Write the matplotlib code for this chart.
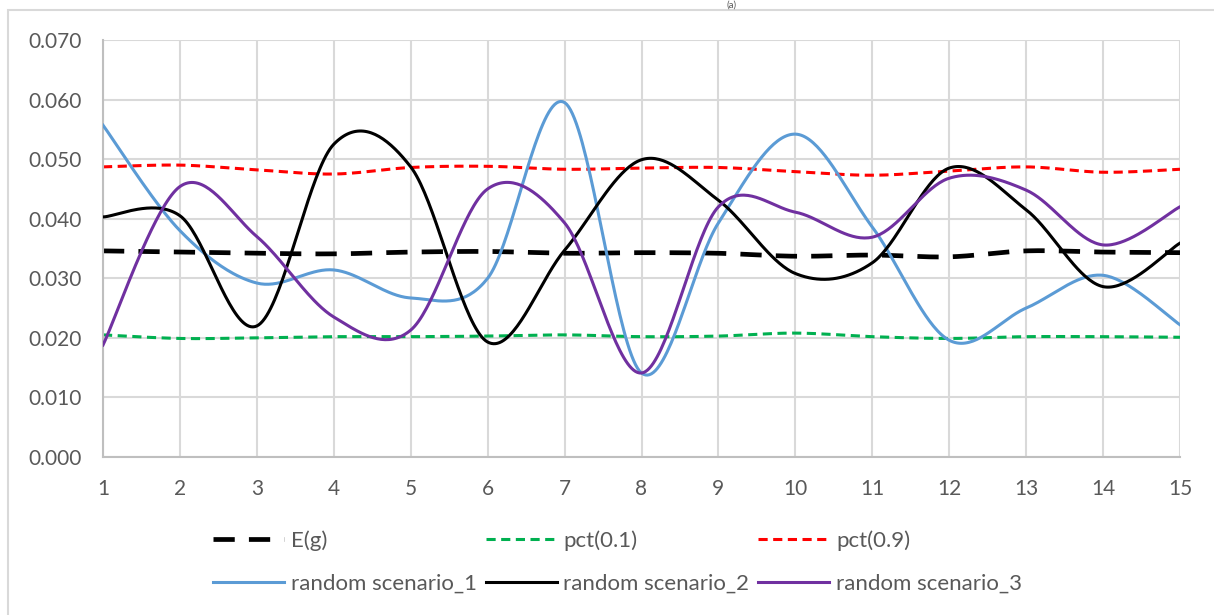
import numpy as np
import matplotlib.pyplot as plt
from matplotlib.patches import Rectangle

plt.rcParams['font.family'] = ['Lato', 'DejaVu Sans']

steps = list(range(1, 16))

e_g = [0.0346, 0.0344, 0.0342, 0.0341, 0.0344, 0.0345, 0.0342, 0.0343,
       0.0342, 0.0337, 0.0339, 0.0336, 0.0346, 0.0344, 0.0343]
pct_01 = [0.0205, 0.0199, 0.0200, 0.0202, 0.0202, 0.0203, 0.0205, 0.0202,
          0.0203, 0.0208, 0.0202, 0.0199, 0.0202, 0.0202, 0.0201]
pct_09 = [0.0487, 0.0490, 0.0482, 0.0475, 0.0486, 0.0488, 0.0483, 0.0485,
          0.0486, 0.0479, 0.0473, 0.0480, 0.0487, 0.0478, 0.0483]
scen_1 = [0.0557, 0.0380, 0.0292, 0.0314, 0.0267, 0.0300, 0.0595, 0.0141,
          0.0393, 0.0542, 0.0386, 0.0196, 0.0250, 0.0305, 0.0222]
scen_2 = [0.0403, 0.0405, 0.0220, 0.0525, 0.0487, 0.0193, 0.0347, 0.0499,
          0.0431, 0.0308, 0.0326, 0.0485, 0.0415, 0.0286, 0.0359]
scen_3 = [0.0188, 0.0454, 0.0370, 0.0235, 0.0213, 0.0450, 0.0393, 0.0141,
          0.0420, 0.0411, 0.0369, 0.0468, 0.0448, 0.0356, 0.0420]

yticks = [0.0, 0.01, 0.02, 0.03, 0.04, 0.05, 0.06, 0.07]


def smooth(x, y, n=40):
    # excel style smoothed line (bezier, control points at 1/6 of neighbour diff)
    x = np.asarray(x, float)
    y = np.asarray(y, float)
    xs, ys = [], []
    for i in range(len(x) - 1):
        i0 = max(i - 1, 0)
        i3 = min(i + 2, len(x) - 1)
        p0 = np.array([x[i], y[i]])
        p3 = np.array([x[i + 1], y[i + 1]])
        c1 = p0 + (p3 - np.array([x[i0], y[i0]])) / 6
        c2 = p3 - (np.array([x[i3], y[i3]]) - p0) / 6
        t = np.linspace(0, 1, n)[:, None]
        b = (1 - t)**3 * p0 + 3 * (1 - t)**2 * t * c1 + 3 * (1 - t) * t**2 * c2 + t**3 * p3
        xs.extend(b[:, 0])
        ys.extend(b[:, 1])
    return xs, ys


fig = plt.figure(figsize=(12.14, 6.15), dpi=100)
ax = fig.add_axes([103 / 1214, 1 - 457 / 615, (1180 - 103) / 1214, (457 - 40) / 615])

lines = []
l, = ax.plot(*smooth(steps, e_g), color='black', lw=3.4, dashes=(4.5, 3), label='E(g)')
lines.append(l)
l, = ax.plot(*smooth(steps, scen_1), color='#5B9BD5', lw=2.2, label='random scenario_1')
lines.append(l)
l, = ax.plot(*smooth(steps, pct_01), color='#00B050', lw=2.2, dashes=(3, 1.8), label='pct(0.1)')
lines.append(l)
l, = ax.plot(*smooth(steps, scen_2), color='black', lw=2.2, label='random scenario_2')
lines.append(l)
l, = ax.plot(*smooth(steps, pct_09), color='#FF0000', lw=2.2, dashes=(3, 1.8), label='pct(0.9)')
lines.append(l)
l, = ax.plot(*smooth(steps, scen_3), color='#7030A0', lw=2.2, label='random scenario_3')
lines.append(l)

# dashed stats under the scenario lines
for z, ln in zip([2, 3, 2, 3, 2, 3], lines):
    ln.set_zorder(z)

ax.set_xlim(1, 15)
ax.set_ylim(0, 0.07)
ax.set_xticks(steps)
ax.set_yticks(yticks)
ax.set_yticklabels(['{:.3f}'.format(v) for v in yticks])
ax.grid(True, color='#D9D9D9', lw=1.5)
ax.set_axisbelow(True)
for s in ['top', 'right']:
    ax.spines[s].set_visible(False)
for s in ['left', 'bottom']:
    ax.spines[s].set_color('#BFBFBF')
    ax.spines[s].set_linewidth(1.5)
ax.tick_params(length=0, labelsize=15, colors='#595959')
ax.tick_params(axis='y', pad=15)
ax.tick_params(axis='x', pad=16)

leg = fig.legend(handles=lines, ncol=3, loc='upper left',
                 bbox_to_anchor=(213 / 1214, 1 - 530 / 615), frameon=False,
                 fontsize=16, handlelength=3.2, handletextpad=0.3,
                 columnspacing=0.4, labelspacing=1.05, borderpad=0, borderaxespad=0)
for t in leg.get_texts():
    t.set_color('#595959')

# outer chart frame (only left and top edges fall inside the picture)
fig.patches.append(Rectangle((8 / 1214, -0.1), 1.2, 1 - 10 / 615 + 0.1,
                             transform=fig.transFigure, fill=False,
                             edgecolor='#D9D9D9', lw=1.5))
fig.text(732 / 1214, 0.999, '(a)', ha='center', va='top', fontsize=7, color='#595959')

fig.savefig('out.png', dpi=100)
